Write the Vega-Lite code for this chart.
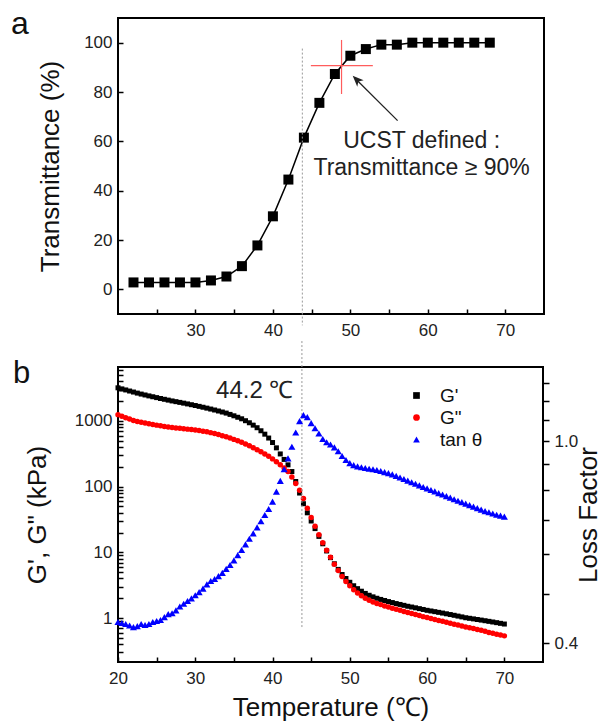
{
  "$schema": "https://vega.github.io/schema/vega-lite/v6.json",
  "padding": {"left": 10, "top": 7, "right": 1, "bottom": 2},
  "bounds": "flush",
  "spacing": 53,
  "resolve": {"scale": {"color": "independent", "shape": "independent"}, "legend": {"color": "independent", "shape": "independent"}},
  "config": {
    "font": "Liberation Sans",
    "view": {"stroke": "black", "strokeWidth": 2},
    "axis": {
      "domain": false, "grid": false,
      "labelFont": "Liberation Sans", "labelFontSize": 17, "labelColor": "#222",
      "titleFont": "Liberation Sans", "titleFontSize": 26, "titleFontWeight": "normal", "titleColor": "#111",
      "tickColor": "black", "tickWidth": 1.5, "tickSize": -5, "labelPadding": 11,
      "labelFlush": false, "labelOverlap": false
    },
    "axisX": {"labelPadding": 13},
    "title": {"font": "Liberation Sans", "fontWeight": "normal", "color": "#111"}
  },
  "datasets": {
    "trans": [
      {"T": 22, "Tr": 2.8}, {"T": 24, "Tr": 2.8}, {"T": 26, "Tr": 2.8}, {"T": 28, "Tr": 2.8},
      {"T": 30, "Tr": 2.8}, {"T": 32, "Tr": 3.6}, {"T": 34, "Tr": 5.2}, {"T": 36, "Tr": 9.4},
      {"T": 38, "Tr": 17.8}, {"T": 40, "Tr": 29.6}, {"T": 42, "Tr": 44.5}, {"T": 44, "Tr": 61.5},
      {"T": 46, "Tr": 75.6}, {"T": 48, "Tr": 87.3}, {"T": 50, "Tr": 94.7}, {"T": 52, "Tr": 97.4},
      {"T": 54, "Tr": 99.2}, {"T": 56, "Tr": 99.2}, {"T": 58, "Tr": 100}, {"T": 60, "Tr": 100},
      {"T": 62, "Tr": 100}, {"T": 64, "Tr": 100}, {"T": 66, "Tr": 100}, {"T": 68, "Tr": 100}
    ],
    "rheo": [
      {"T":20,"Gp":3200,"Gpp":1250,"tan":0.440},
      {"T":20.5,"Gp":3080,"Gpp":1180,"tan":0.438},
      {"T":21,"Gp":2970,"Gpp":1120,"tan":0.436},
      {"T":21.5,"Gp":2860,"Gpp":1070,"tan":0.433},
      {"T":22,"Gp":2760,"Gpp":1020,"tan":0.430},
      {"T":22.5,"Gp":2660,"Gpp":985,"tan":0.432},
      {"T":23,"Gp":2570,"Gpp":955,"tan":0.436},
      {"T":23.5,"Gp":2490,"Gpp":930,"tan":0.434},
      {"T":24,"Gp":2410,"Gpp":905,"tan":0.436},
      {"T":24.5,"Gp":2340,"Gpp":885,"tan":0.440},
      {"T":25,"Gp":2270,"Gpp":865,"tan":0.442},
      {"T":25.5,"Gp":2200,"Gpp":845,"tan":0.444},
      {"T":26,"Gp":2140,"Gpp":825,"tan":0.450},
      {"T":26.5,"Gp":2080,"Gpp":810,"tan":0.456},
      {"T":27,"Gp":2020,"Gpp":795,"tan":0.458},
      {"T":27.5,"Gp":1970,"Gpp":785,"tan":0.464},
      {"T":28,"Gp":1920,"Gpp":775,"tan":0.472},
      {"T":28.5,"Gp":1870,"Gpp":765,"tan":0.478},
      {"T":29,"Gp":1820,"Gpp":752,"tan":0.484},
      {"T":29.5,"Gp":1770,"Gpp":740,"tan":0.490},
      {"T":30,"Gp":1720,"Gpp":728,"tan":0.497},
      {"T":30.5,"Gp":1670,"Gpp":715,"tan":0.504},
      {"T":31,"Gp":1620,"Gpp":700,"tan":0.512},
      {"T":31.5,"Gp":1570,"Gpp":685,"tan":0.522},
      {"T":32,"Gp":1520,"Gpp":665,"tan":0.530},
      {"T":32.5,"Gp":1470,"Gpp":645,"tan":0.535},
      {"T":33,"Gp":1420,"Gpp":622,"tan":0.542},
      {"T":33.5,"Gp":1370,"Gpp":598,"tan":0.550},
      {"T":34,"Gp":1320,"Gpp":575,"tan":0.560},
      {"T":34.5,"Gp":1260,"Gpp":550,"tan":0.570},
      {"T":35,"Gp":1200,"Gpp":525,"tan":0.582},
      {"T":35.5,"Gp":1140,"Gpp":500,"tan":0.596},
      {"T":36,"Gp":1080,"Gpp":475,"tan":0.610},
      {"T":36.5,"Gp":1010,"Gpp":448,"tan":0.626},
      {"T":37,"Gp":940,"Gpp":420,"tan":0.642},
      {"T":37.5,"Gp":865,"Gpp":392,"tan":0.658},
      {"T":38,"Gp":790,"Gpp":365,"tan":0.676},
      {"T":38.5,"Gp":710,"Gpp":340,"tan":0.695},
      {"T":39,"Gp":630,"Gpp":315,"tan":0.715},
      {"T":39.5,"Gp":550,"Gpp":290,"tan":0.735},
      {"T":40,"Gp":470,"Gpp":265,"tan":0.760},
      {"T":40.5,"Gp":390,"Gpp":240,"tan":0.795},
      {"T":41,"Gp":315,"Gpp":215,"tan":0.835},
      {"T":41.5,"Gp":260,"Gpp":192,"tan":0.880},
      {"T":42,"Gp":215,"Gpp":170,"tan":0.925},
      {"T":42.5,"Gp":170,"Gpp":140,"tan":0.975},
      {"T":43,"Gp":120,"Gpp":112,"tan":1.040},
      {"T":43.5,"Gp":80,"Gpp":88,"tan":1.095},
      {"T":44,"Gp":55,"Gpp":66,"tan":1.125},
      {"T":44.5,"Gp":40,"Gpp":47,"tan":1.115},
      {"T":45,"Gp":30,"Gpp":34,"tan":1.085},
      {"T":45.5,"Gp":23,"Gpp":25,"tan":1.060},
      {"T":46,"Gp":17.5,"Gpp":18.5,"tan":1.035},
      {"T":46.5,"Gp":13.5,"Gpp":14,"tan":1.010},
      {"T":47,"Gp":10.5,"Gpp":10.8,"tan":0.995},
      {"T":47.5,"Gp":8.3,"Gpp":8.4,"tan":0.985},
      {"T":48,"Gp":6.7,"Gpp":6.6,"tan":0.972},
      {"T":48.5,"Gp":5.5,"Gpp":5.3,"tan":0.955},
      {"T":49,"Gp":4.6,"Gpp":4.3,"tan":0.935},
      {"T":49.5,"Gp":4.0,"Gpp":3.6,"tan":0.918},
      {"T":50,"Gp":3.5,"Gpp":3.1,"tan":0.905},
      {"T":50.5,"Gp":3.1,"Gpp":2.7,"tan":0.897},
      {"T":51,"Gp":2.8,"Gpp":2.4,"tan":0.892},
      {"T":51.5,"Gp":2.56,"Gpp":2.18,"tan":0.888},
      {"T":52,"Gp":2.37,"Gpp":2.0,"tan":0.885},
      {"T":52.5,"Gp":2.22,"Gpp":1.87,"tan":0.882},
      {"T":53,"Gp":2.1,"Gpp":1.76,"tan":0.880},
      {"T":53.5,"Gp":2.0,"Gpp":1.67,"tan":0.877},
      {"T":54,"Gp":1.92,"Gpp":1.6,"tan":0.873},
      {"T":54.5,"Gp":1.85,"Gpp":1.53,"tan":0.869},
      {"T":55,"Gp":1.78,"Gpp":1.47,"tan":0.865},
      {"T":55.5,"Gp":1.72,"Gpp":1.41,"tan":0.860},
      {"T":56,"Gp":1.66,"Gpp":1.36,"tan":0.854},
      {"T":56.5,"Gp":1.61,"Gpp":1.31,"tan":0.848},
      {"T":57,"Gp":1.56,"Gpp":1.26,"tan":0.842},
      {"T":57.5,"Gp":1.51,"Gpp":1.21,"tan":0.836},
      {"T":58,"Gp":1.47,"Gpp":1.17,"tan":0.830},
      {"T":58.5,"Gp":1.43,"Gpp":1.13,"tan":0.824},
      {"T":59,"Gp":1.39,"Gpp":1.09,"tan":0.818},
      {"T":59.5,"Gp":1.35,"Gpp":1.05,"tan":0.812},
      {"T":60,"Gp":1.31,"Gpp":1.02,"tan":0.807},
      {"T":60.5,"Gp":1.28,"Gpp":0.98,"tan":0.801},
      {"T":61,"Gp":1.25,"Gpp":0.95,"tan":0.796},
      {"T":61.5,"Gp":1.22,"Gpp":0.92,"tan":0.790},
      {"T":62,"Gp":1.19,"Gpp":0.89,"tan":0.785},
      {"T":62.5,"Gp":1.16,"Gpp":0.86,"tan":0.779},
      {"T":63,"Gp":1.13,"Gpp":0.83,"tan":0.774},
      {"T":63.5,"Gp":1.10,"Gpp":0.805,"tan":0.768},
      {"T":64,"Gp":1.07,"Gpp":0.78,"tan":0.763},
      {"T":64.5,"Gp":1.04,"Gpp":0.755,"tan":0.758},
      {"T":65,"Gp":1.01,"Gpp":0.73,"tan":0.753},
      {"T":65.5,"Gp":0.99,"Gpp":0.71,"tan":0.748},
      {"T":66,"Gp":0.97,"Gpp":0.69,"tan":0.743},
      {"T":66.5,"Gp":0.95,"Gpp":0.67,"tan":0.738},
      {"T":67,"Gp":0.93,"Gpp":0.65,"tan":0.733},
      {"T":67.5,"Gp":0.91,"Gpp":0.63,"tan":0.728},
      {"T":68,"Gp":0.89,"Gpp":0.60,"tan":0.724},
      {"T":68.5,"Gp":0.87,"Gpp":0.585,"tan":0.720},
      {"T":69,"Gp":0.85,"Gpp":0.565,"tan":0.716},
      {"T":69.5,"Gp":0.83,"Gpp":0.55,"tan":0.713},
      {"T":70,"Gp":0.81,"Gpp":0.535,"tan":0.710}
    ]
  },
  "vconcat": [
    {
      "width": 426,
      "height": 296,
      "title": {"text": "a", "anchor": "start", "frame": "group", "fontSize": 32, "dx": -107, "dy": 48, "offset": 0, "baseline": "alphabetic"},
      "layer": [
        {
          "data": {"name": "trans"},
          "mark": {"type": "line", "color": "black", "strokeWidth": 1.5},
          "encoding": {
            "x": {"field": "T", "type": "quantitative", "scale": {"domain": [20, 75], "nice": false, "zero": false},
                  "axis": {"title": null, "values": [25,30,35,40,45,50,55,60,65,70], "labelExpr": "datum.value % 10 === 0 ? datum.label : ''"}},
            "y": {"field": "Tr", "type": "quantitative", "scale": {"domain": [-10, 110], "nice": false, "zero": false},
                  "axis": {"title": "Transmittance (%)", "titlePadding": 20, "values": [0,10,20,30,40,50,60,70,80,90,100], "labelExpr": "datum.value % 20 === 0 ? datum.label : ''"}}
          }
        },
        {
          "data": {"name": "trans"},
          "mark": {"type": "point", "shape": "square", "filled": true, "color": "black", "size": 100, "opacity": 1},
          "encoding": {
            "x": {"field": "T", "type": "quantitative"},
            "y": {"field": "Tr", "type": "quantitative"}
          }
        },
        {
          "data": {"values": [{}]},
          "mark": {"type": "rule", "color": "#999999", "strokeWidth": 1, "strokeDash": [2, 2]},
          "encoding": {"x": {"datum": 43.8, "type": "quantitative"}, "y": {"datum": 97.6, "type": "quantitative"}, "y2": {"datum": -14.6}}
        },
        {
          "data": {"values": [{}]},
          "mark": {"type": "rule", "color": "#ff5c5c", "strokeWidth": 1.2},
          "encoding": {"x": {"datum": 44.9, "type": "quantitative"}, "x2": {"datum": 52.9}, "y": {"datum": 90.7, "type": "quantitative"}}
        },
        {
          "data": {"values": [{}]},
          "mark": {"type": "rule", "color": "#ff5c5c", "strokeWidth": 1.2},
          "encoding": {"x": {"datum": 48.86, "type": "quantitative"}, "y": {"datum": 101.1, "type": "quantitative"}, "y2": {"datum": 79.2}}
        },
        {
          "data": {"values": [{}]},
          "mark": {"type": "rule", "color": "#222", "strokeWidth": 1.3},
          "encoding": {"x": {"datum": 56.1, "type": "quantitative"}, "x2": {"datum": 50.6}, "y": {"datum": 68.4, "type": "quantitative"}, "y2": {"datum": 85.6}}
        },
        {
          "data": {"values": [{}]},
          "mark": {"type": "point", "shape": "M0,0L0.45,1.1L0,0.8L-0.45,1.1Z", "filled": true, "color": "#222", "size": 400, "angle": 315, "opacity": 1},
          "encoding": {"x": {"datum": 50.3, "type": "quantitative"}, "y": {"datum": 86.6, "type": "quantitative"}}
        },
        {
          "data": {"values": [{}]},
          "mark": {"type": "text", "fontSize": 23, "align": "center", "baseline": "alphabetic", "lineHeight": 27, "color": "#222",
                   "text": ["UCST defined :", "Transmittance ≥ 90%"]},
          "encoding": {"x": {"datum": 59.2, "type": "quantitative"}, "y": {"datum": 57.1, "type": "quantitative"}}
        }
      ]
    },
    {
      "width": 425,
      "height": 295,
      "title": {"text": "b", "anchor": "start", "frame": "group", "fontSize": 31, "dx": -105, "dy": 73, "offset": 0, "baseline": "alphabetic"},
      "layer": [
        {
          "layer": [
            {
              "data": {"name": "rheo"},
              "mark": {"type": "point", "filled": true, "size": 25, "opacity": 1},
              "encoding": {
                "x": {"field": "T", "type": "quantitative", "scale": {"domain": [20, 75], "nice": false, "zero": false},
                      "axis": {"title": "Temperature (℃)", "values": [20,25,30,35,40,45,50,55,60,65,70], "labelExpr": "datum.value % 10 === 0 ? datum.label : ''", "titlePadding": 8}},
                "y": {"field": "Gp", "type": "quantitative", "scale": {"type": "log", "domain": [0.214, 6640], "nice": false},
                      "axis": {"title": "G', G\" (kPa)", "titlePadding": 24, "values": [0.3,0.4,0.5,0.6,0.7,0.8,0.9,1,2,3,4,5,6,7,8,9,10,20,30,40,50,60,70,80,90,100,200,300,400,500,600,700,800,900,1000,2000,3000,4000,5000,6000],
                               "labelExpr": "datum.value == 1 || datum.value == 10 || datum.value == 100 || datum.value == 1000 ? format(datum.value, 'd') : ''"}},
                "color": {"datum": "G'", "type": "nominal",
                          "scale": {"domain": ["G'", "G\"", "tan θ"], "range": ["black", "red", "blue"]},
                          "legend": {"title": null, "orient": "none", "legendX": 289, "legendY": 19, "labelFontSize": 19, "labelFont": "Liberation Sans", "labelColor": "#111", "symbolSize": 45, "rowPadding": 2, "labelOffset": 14, "padding": 0}},
                "shape": {"datum": "G'", "type": "nominal",
                          "scale": {"domain": ["G'", "G\"", "tan θ"], "range": ["square", "circle", "triangle-up"]}}
              }
            },
            {
              "data": {"name": "rheo"},
              "mark": {"type": "point", "filled": true, "size": 30, "opacity": 1},
              "encoding": {
                "x": {"field": "T", "type": "quantitative"},
                "y": {"field": "Gpp", "type": "quantitative", "title": "G', G\" (kPa)"},
                "color": {"datum": "G\"", "type": "nominal"},
                "shape": {"datum": "G\"", "type": "nominal"}
              }
            },
            {
              "data": {"values": [{}]},
              "mark": {"type": "rule", "color": "#999999", "strokeWidth": 1, "strokeDash": [2, 2]},
              "encoding": {"x": {"datum": 43.8, "type": "quantitative"}, "y": {"datum": 16500, "type": "quantitative", "title": "G', G\" (kPa)"}, "y2": {"datum": 0.70}}
            },
            {
              "data": {"values": [{}]},
              "mark": {"type": "text", "fontSize": 24, "align": "center", "baseline": "alphabetic", "color": "#222", "text": "44.2 ℃"},
              "encoding": {"x": {"datum": 37.7, "type": "quantitative"}, "y": {"datum": 2240, "type": "quantitative", "title": "G', G\" (kPa)"}}
            }
          ]
        },
        {
          "data": {"name": "rheo"},
          "mark": {"type": "point", "filled": true, "size": 50, "opacity": 1},
          "encoding": {
            "x": {"field": "T", "type": "quantitative"},
            "y": {"field": "tan", "type": "quantitative", "scale": {"type": "log", "domain": [0.367, 1.40], "nice": false},
                  "axis": {"orient": "right", "title": "Loss Factor", "titleAngle": 270, "titleBaseline": "top", "titlePadding": -2, "tickSize": 6, "labelPadding": 5,
                           "values": [0.4,0.5,0.6,0.7,0.8,0.9,1.0,1.1,1.2,1.3],
                           "labelExpr": "datum.value == 0.4 || datum.value == 1 ? format(datum.value, '.1f') : ''"}},
            "color": {"datum": "tan θ", "type": "nominal"},
            "shape": {"datum": "tan θ", "type": "nominal"}
          }
        }
      ],
      "resolve": {"scale": {"y": "independent"}}
    }
  ]
}
